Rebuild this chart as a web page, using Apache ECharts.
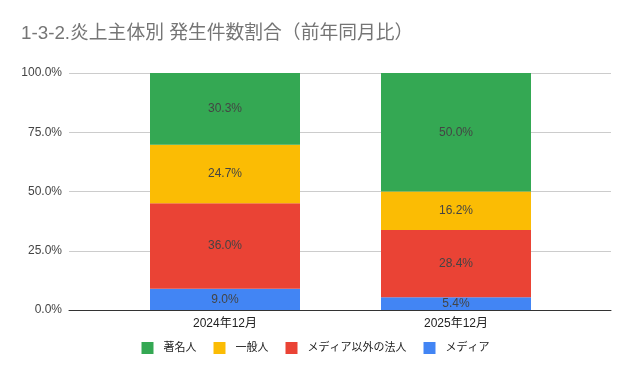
<!DOCTYPE html>
<html><head><meta charset="utf-8">
<script src="https://cdn.jsdelivr.net/npm/echarts@6/dist/echarts.min.js"></script>
<style>html,body{margin:0;padding:0;background:#fff}#c{width:631px;height:371px}</style>
</head><body><div id="c"></div>
<script>
const categories = ['2024年12月', '2025年12月'];
const media = [9.0, 5.4];
const corporate = [36.0, 28.4];
const general = [24.7, 16.2];
const famous = [30.3, 50.0];
const yTicks = [0, 25, 50, 75, 100];

const chart = echarts.init(document.getElementById('c'));
const FONT = '"Liberation Sans", Arial, "Noto Sans CJK JP", sans-serif';
const lbl = {show: true, position: 'inside', color: '#444', fontSize: 12, fontFamily: FONT,
  formatter: p => p.value.toFixed(1) + '%'};
function s(name, data, color) {
  return {name, type: 'bar', stack: 't', data, xAxisIndex: 1, yAxisIndex: 1,
    barWidth: 150, itemStyle: {color}, label: lbl, emphasis: {disabled: true}};
}
chart.setOption({
  animation: false,
  textStyle: {fontFamily: FONT},
  title: {text: '1-3-2.炎上主体別 発生件数割合（前年同月比）', left: 16, top: 19,
    textStyle: {fontSize: 18.8, fontWeight: 'normal', color: '#757575', fontFamily: FONT}},
  grid: [
    {left: 69, right: 20, top: 73, bottom: 61},
    {left: 109.5, right: 59.5, top: 73, bottom: 61}
  ],
  legend: {bottom: 12, left: 'center', itemWidth: 12, itemHeight: 12, itemGap: 17,
    icon: 'rect', data: ['著名人', '一般人', 'メディア以外の法人', 'メディア'],
    textStyle: {fontSize: 11, color: '#222', fontFamily: FONT, padding: [0, 0, 0, 5]}},
  xAxis: [
    {type: 'category', gridIndex: 0, data: categories, axisLine: {lineStyle: {color: '#333'}},
     axisTick: {show: false}, axisLabel: {show: false}},
    {type: 'category', gridIndex: 1, data: categories, axisLine: {show: false},
     axisTick: {show: false}, axisLabel: {color: '#222', fontSize: 12, margin: 8, fontFamily: FONT}}
  ],
  yAxis: [
    {type: 'value', gridIndex: 0, min: 0, max: 100, interval: 25,
     axisLabel: {color: '#444', fontSize: 12, margin: 7, fontFamily: FONT,
       formatter: v => yTicks.includes(v) ? v.toFixed(1) + '%' : ''},
     splitLine: {lineStyle: {color: '#ccc'}}, axisLine: {show: false}, axisTick: {show: false}},
    {type: 'value', gridIndex: 1, min: 0, max: 100, interval: 25, show: false,
     splitLine: {show: false}}
  ],
  series: [
    s('メディア', media, '#4285f4'),
    s('メディア以外の法人', corporate, '#ea4335'),
    s('一般人', general, '#fbbc04'),
    s('著名人', famous, '#34a853')
  ]
});
</script></body></html>
